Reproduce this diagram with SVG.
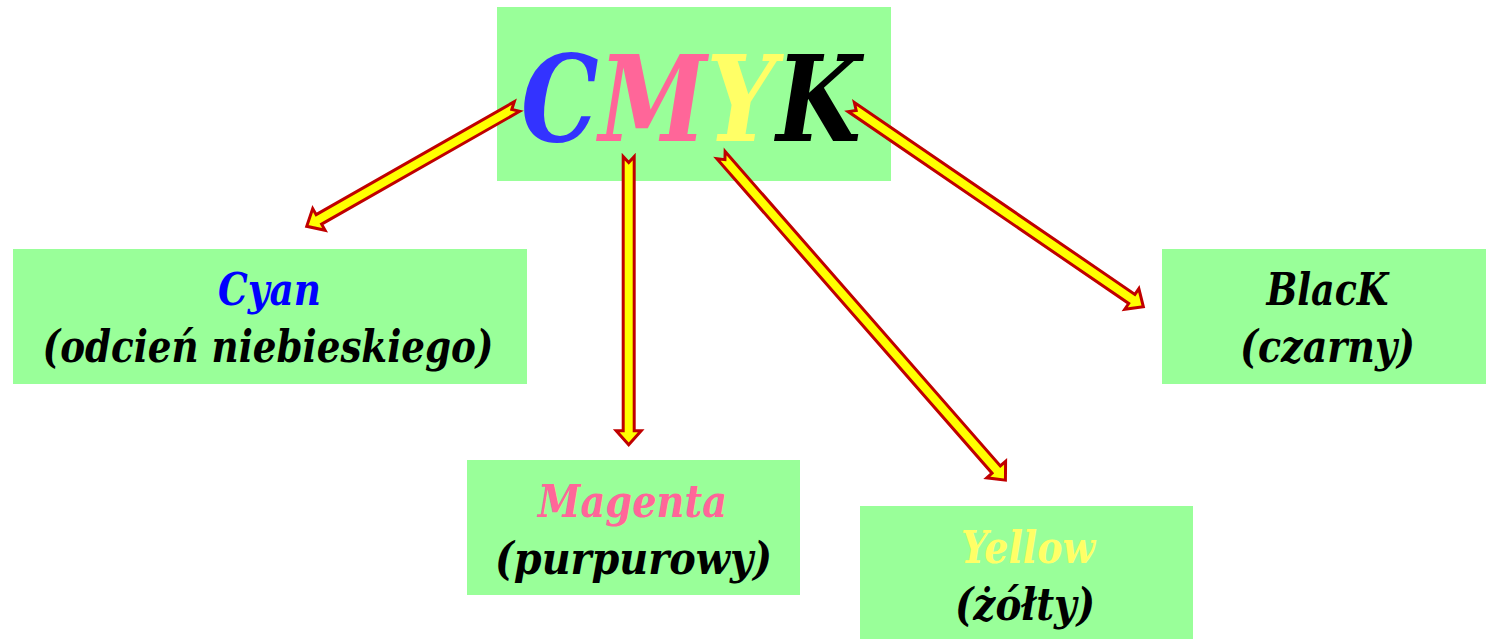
<svg xmlns="http://www.w3.org/2000/svg" width="1486" height="639" viewBox="0 0 1486 639">
  <style>
    .box { fill: #99FF99; }
    .t { font-family: "DejaVu Serif Condensed", "DejaVu Serif", serif; font-stretch: condensed; font-weight: bold; font-style: italic; text-anchor: middle; }
    .sub { font-size: 45px; fill: #000000; }
    .big { font-size: 120px; text-anchor: start; }
    .arrow { fill: #FFFF00; stroke: #C00000; stroke-width: 3; stroke-linejoin: miter; }
  </style>
  <rect width="1486" height="639" fill="#FFFFFF"/>

  <!-- Main title: CMYK -->
  <g id="node-cmyk">
    <rect class="box" x="497" y="7" width="394" height="174"/>
    <text class="t big" x="521" y="141" textLength="340" lengthAdjust="spacingAndGlyphs"><tspan fill="#3333FF">C</tspan><tspan fill="#FF6699">M</tspan><tspan fill="#FFFF66">Y</tspan><tspan fill="#000000">K</tspan></text>
  </g>

  <g id="node-cyan">
    <rect class="box" x="13" y="249" width="514" height="135"/>
    <text class="t sub" x="269.5" y="305" fill="#0000FF" style="fill:#0000FF" textLength="103" lengthAdjust="spacingAndGlyphs">Cyan</text>
    <text class="t sub" x="268" y="362" textLength="451" lengthAdjust="spacingAndGlyphs">(odcień niebieskiego)</text>
  </g>

  <g id="node-magenta">
    <rect class="box" x="467" y="460" width="333" height="135"/>
    <text class="t sub" x="632.5" y="517" style="fill:#FF6699" textLength="189" lengthAdjust="spacingAndGlyphs">Magenta</text>
    <text class="t sub" x="633.5" y="574" textLength="277" lengthAdjust="spacingAndGlyphs">(purpurowy)</text>
  </g>

  <g id="node-yellow">
    <rect class="box" x="860" y="506" width="333" height="133"/>
    <text class="t sub" x="1028" y="563" style="fill:#FFFF66" textLength="134" lengthAdjust="spacingAndGlyphs">Yellow</text>
    <text class="t sub" x="1025" y="620" textLength="140" lengthAdjust="spacingAndGlyphs">(żółty)</text>
  </g>

  <g id="node-black">
    <rect class="box" x="1162" y="249" width="324" height="135"/>
    <text class="t sub" x="1327.5" y="305" textLength="122" lengthAdjust="spacingAndGlyphs">BlacK</text>
    <text class="t sub" x="1327.5" y="362" textLength="175" lengthAdjust="spacingAndGlyphs">(czarny)</text>
  </g>

  <!-- Block arrows with notched tails, drawn along +x then rotated -->
  <g id="connectors">
    <polygon class="arrow" transform="translate(518.3,105.8) rotate(150.33)" points="1.5,-5.5 229.5,-5.5 229.5,-12.5 243.5,0 229.5,12.5 229.5,5.5 1.5,5.5 7.5,0"/>
    <polygon class="arrow" transform="translate(628.7,155) rotate(90)" points="1.5,-5.5 275.7,-5.5 275.7,-12.5 289.7,0 275.7,12.5 275.7,5.5 1.5,5.5 7.5,0"/>
    <polygon class="arrow" transform="translate(720,154) rotate(48.81)" points="1.5,-5.5 419.4,-5.5 419.4,-12.5 433.4,0 419.4,12.5 419.4,5.5 1.5,5.5 7.5,0"/>
    <polygon class="arrow" transform="translate(850,106.2) rotate(34.37)" points="1.5,-5.5 341.4,-5.5 341.4,-12.5 355.4,0 341.4,12.5 341.4,5.5 1.5,5.5 7.5,0"/>
  </g>
</svg>
